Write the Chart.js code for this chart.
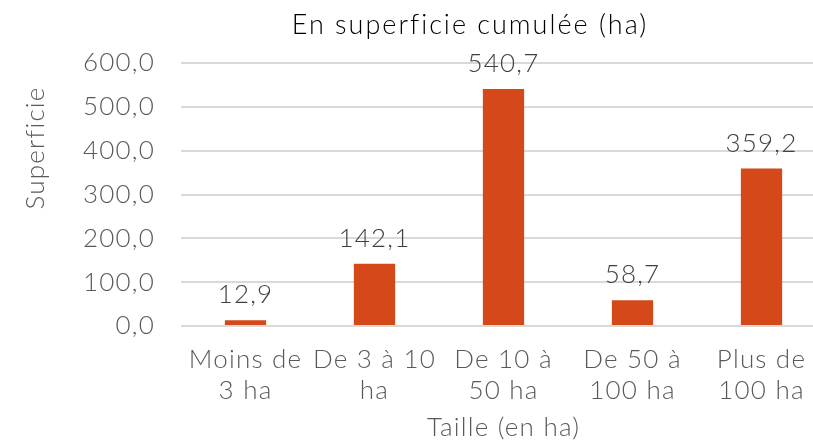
<!DOCTYPE html>
<html>
<head>
<meta charset="utf-8">
<script src="https://cdn.jsdelivr.net/npm/chart.js@4"></script>
<style>
  html, body { margin: 0; padding: 0; background: #fff; overflow: hidden; }
  #wrap { width: 826px; height: 443px; }
</style>
</head>
<body>
<div id="wrap"><canvas id="superficieChart"></canvas></div>
<script>
const categories = [['Moins de', '3 ha'], ['De 3 à 10', 'ha'], ['De 10 à', '50 ha'], ['De 50 à', '100 ha'], ['Plus de', '100 ha']];
const superficie = [12.9, 142.1, 540.7, 58.7, 359.2];
const yTicks = [0, 100, 200, 300, 400, 500, 600];

const chartTitle = 'En superficie cumulée (ha)';
const xTitle = 'Taille (en ha)';
const yTitle = 'Superficie';

const fontFamily = 'Lato, "Liberation Sans", sans-serif';
const fontWeight = 300;
const fontSize = 26;
const spacing = '1.2px'; // Century Gothic runs wider than Lato
const textColor = '#595959';

const frFormat = v => v.toFixed(1).replace('.', ',');

// Value labels and titles drawn by hand so they sit where Excel put them
const extraText = {
    id: 'extraText',
    beforeDraw(chart) {
        chart.ctx.letterSpacing = spacing;
    },
    afterDraw(chart) {
        const ctx = chart.ctx;
        const area = chart.chartArea;
        const meta = chart.getDatasetMeta(0);
        ctx.save();
        ctx.letterSpacing = spacing;
        ctx.font = fontWeight + ' ' + fontSize + 'px ' + fontFamily;
        ctx.textAlign = 'center';

        // values above bars
        ctx.fillStyle = '#404040';
        ctx.textBaseline = 'alphabetic';
        meta.data.forEach((bar, i) => {
            ctx.fillText(frFormat(superficie[i]), bar.x, bar.y - 17);
        });

        // x axis title
        ctx.fillStyle = textColor;
        ctx.textBaseline = 'middle';
        ctx.fillText(xTitle, (area.left + area.right) / 2, 428);

        // y axis title
        ctx.save();
        ctx.translate(36, 148);
        ctx.rotate(-Math.PI / 2);
        ctx.fillText(yTitle, 0, 0);
        ctx.restore();

        // chart title
        ctx.fillStyle = '#000';
        ctx.textBaseline = 'alphabetic';
        ctx.letterSpacing = '2px';
        ctx.font = fontWeight + ' 27px ' + fontFamily;
        ctx.fillText(chartTitle, 470, 34);
        ctx.restore();
    }
};

const ctx = document.getElementById('superficieChart').getContext('2d');
const superficieChart = new Chart(ctx, {
    type: 'bar',
    data: {
        labels: categories,
        datasets: [{
            label: 'Superficie',
            data: superficie,
            backgroundColor: '#D4481A',
            categoryPercentage: 1,
            barPercentage: 0.32
        }]
    },
    options: {
        responsive: true,
        maintainAspectRatio: false,
        animation: false,
        devicePixelRatio: 1,
        layout: { padding: { left: 0, right: 0, top: 63, bottom: 0 } },
        plugins: {
            legend: { display: false },
            tooltip: { enabled: false },
            title: { display: false }
        },
        scales: {
            x: {
                grid: { display: false },
                border: { display: false },
                afterFit: axis => { axis.height = 117; },
                ticks: {
                    color: textColor,
                    font: { family: fontFamily, size: fontSize, weight: fontWeight, lineHeight: '31px' },
                    maxRotation: 0,
                    autoSkip: false,
                    padding: 10
                }
            },
            y: {
                min: 0,
                max: 600,
                afterBuildTicks: axis => {
                    axis.ticks = yTicks.map(v => ({ value: v }));
                },
                afterFit: axis => { axis.width = 181; },
                grid: { color: '#D9D9D9', lineWidth: 2, drawTicks: false },
                border: { display: false },
                ticks: {
                    color: textColor,
                    font: { family: fontFamily, size: fontSize, weight: fontWeight },
                    padding: 26,
                    callback: v => frFormat(v)
                }
            }
        }
    },
    plugins: [extraText]
});
</script>
</body>
</html>
